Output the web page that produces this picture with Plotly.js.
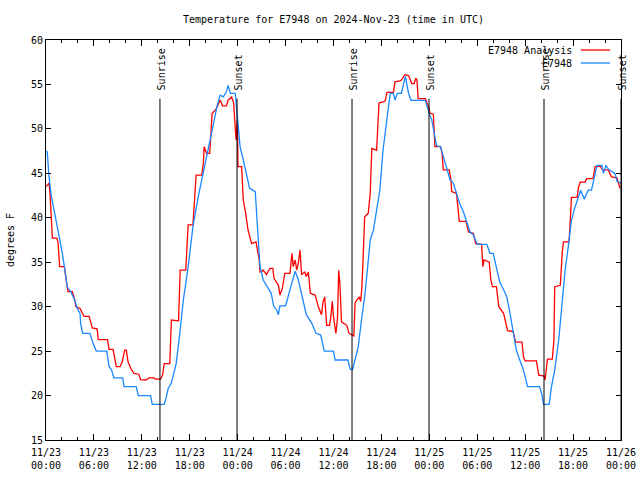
<!DOCTYPE html>
<html>
<head>
<meta charset="utf-8">
<script src="https://cdn.plot.ly/plotly-3.0.1.min.js"></script>
<style>html,body{margin:0;padding:0;background:#fff}#chart{width:640px;height:480px}</style>
</head>
<body>
<div id="chart"></div>
<script>
// Start of the period (UTC)
const startTime = "2024-11-23T00:00:00Z";

// E7948 Analysis (red): hours since start, temperature in F
const analysisHours = [0.0,0.38,0.5,0.67,0.8,1.34,1.5,1.71,2.3,2.46,2.75,3.3,3.5,3.76,4.26,4.76,5.4,5.8,6.4,6.55,7.7,7.9,8.4,8.8,9.27,9.55,9.85,10.06,10.27,10.6,11.0,11.6,11.85,12.5,12.9,13.5,13.7,14.35,14.6,14.8,15.5,15.7,16.6,16.8,17.5,17.8,18.4,18.8,19.5,19.7,19.8,20.1,20.5,20.8,21.2,21.45,21.8,22.1,22.6,22.8,23.25,23.5,23.8,23.96,24.04,24.5,24.7,25.0,25.3,25.75,26.3,26.7,26.8,27.2,27.6,28.05,28.4,28.55,29.1,29.3,29.6,29.9,30.55,30.8,30.95,31.2,31.4,31.6,31.8,32.0,32.4,32.6,32.85,33.1,33.7,34.1,34.5,34.7,34.9,35.15,35.5,35.65,35.85,36.0,36.2,36.3,36.5,36.65,36.8,37.0,37.65,37.95,38.55,38.7,38.9,39.25,39.4,39.55,39.7,39.8,39.9,40.35,40.6,40.8,41.4,41.6,41.7,42.45,42.7,43.5,43.7,44.3,44.5,44.95,45.4,45.8,46.1,46.3,46.45,46.6,47.5,47.9,48.1,48.5,48.7,49.4,49.6,49.75,50.5,50.7,50.8,51.4,51.7,51.75,52.6,52.9,53.5,53.8,54.55,54.7,54.85,55.5,55.7,55.9,56.4,56.7,57.3,57.8,58.5,58.8,59.6,59.8,60.0,61.4,61.5,61.7,62.4,62.5,62.7,62.8,63.4,63.6,63.7,64.4,64.65,64.8,65.5,65.7,65.8,66.5,66.7,66.9,67.5,67.7,68.5,68.75,69.4,69.7,70.4,70.8,71.5,71.6,71.9];
const analysisTemps = [43.5,43.9,42.75,39.4,37.7,37.7,37.3,34.5,34.5,33.4,31.7,31.7,31.1,30.0,29.8,28.9,28.9,27.6,27.5,26.3,26.3,25.2,25.2,23.25,23.25,23.8,25.1,25.1,23.8,23.1,22.5,22.4,21.8,21.75,22.0,22.0,21.85,21.85,22.3,23.6,23.6,28.5,28.4,34.1,34.1,39.2,39.2,44.8,44.8,46.1,48.0,47.25,47.25,51.75,52.1,52.5,53.25,52.6,52.6,53.25,53.6,52.9,48.75,51.0,45.75,45.75,42.0,40.5,38.6,37.1,37.3,35.25,33.9,34.1,33.6,34.3,34.3,33.2,32.4,31.3,32.1,33.75,33.75,36.0,34.5,35.25,34.1,34.9,36.4,33.6,33.9,33.4,33.9,31.5,31.3,30.0,29.1,30.6,31.1,27.9,27.9,28.7,30.6,28.9,27.6,27.0,28.7,34.1,32.6,28.3,27.9,27.0,26.7,30.4,30.75,31.1,30.6,32.1,35.25,38.4,40.1,40.5,42.75,47.8,47.6,51.2,52.9,53.1,54.1,54.1,55.3,55.4,55.5,56.1,56.0,55.1,55.1,55.7,55.5,53.4,53.4,52.5,51.75,51.65,48.0,48.0,47.25,45.4,45.4,44.25,42.95,42.75,40.5,39.6,39.6,38.4,38.25,37.1,37.0,34.5,35.25,35.0,33.0,32.25,32.25,30.0,29.25,27.3,27.2,26.0,26.0,24.3,23.9,23.9,23.4,22.3,22.2,21.75,23.4,24.1,24.1,26.25,32.25,32.4,36.2,37.3,37.3,41.06,42.3,42.3,43.5,44.0,44.0,44.4,44.4,45.75,45.8,45.4,45.4,44.6,44.5,44.1,43.3];

// E7948 observations (blue)
const obsHours = [0.0,0.16,0.34,0.5,0.67,1.0,1.42,1.71,2.05,2.33,2.67,3.09,3.59,3.92,4.26,4.34,4.59,5.5,5.8,6.3,7.6,7.9,8.2,8.5,9.6,9.77,11.3,11.56,13.1,13.3,14.8,15.0,15.3,15.7,16.3,16.7,17.2,17.8,18.4,19.07,19.7,20.3,20.9,21.4,21.8,22.2,22.6,22.8,23.1,23.7,23.96,24.3,24.7,25.1,25.5,26.2,26.4,26.6,26.8,27.2,27.8,28.2,28.5,28.9,29.1,29.3,30.0,30.55,31.2,31.6,32.0,32.6,33.3,33.8,34.4,34.85,36.0,36.2,37.8,38.1,38.4,38.6,39.1,39.5,39.9,40.2,40.6,41.0,41.6,41.8,42.2,42.7,43.1,43.5,43.7,44.0,44.5,44.7,45.0,45.4,45.7,47.5,47.7,48.0,48.3,48.6,48.9,49.4,49.75,50.2,50.6,51.0,51.4,51.8,52.25,52.7,53.1,53.5,54.0,55.2,55.6,56.0,56.4,56.8,57.3,57.7,58.1,58.5,58.9,59.4,59.7,60.0,60.3,61.8,62.1,62.3,63.0,63.3,63.7,64.2,64.6,65.0,65.4,65.8,66.2,66.7,66.95,67.4,67.9,68.3,68.75,69.0,69.6,69.8,70.1,70.5,71.25,71.5,72.0];
const obsTemps = [47.5,47.4,45.0,43.5,42.4,40.9,39.0,37.5,36.0,34.3,32.2,31.7,30.75,29.8,29.25,28.1,27.0,27.0,26.1,25.0,25.0,23.25,22.9,22.0,22.0,21.0,21.0,20.0,20.0,19.0,19.0,19.6,20.8,21.4,23.6,26.6,30.75,34.5,39.0,42.4,45.0,47.6,50.25,52.5,53.8,53.6,54.2,54.9,54.0,54.0,51.0,48.0,46.5,45.0,43.3,42.95,40.5,37.5,34.5,33.0,32.1,31.5,30.1,29.6,29.1,30.1,30.1,31.9,34.0,33.0,31.3,29.1,28.1,27.0,26.8,25.0,25.0,24.0,24.0,22.95,22.95,23.6,25.5,28.5,31.1,33.75,37.5,38.6,42.0,43.1,47.6,51.0,54.0,54.0,53.25,54.0,54.0,54.75,55.9,54.0,53.2,53.2,52.5,51.7,51.0,49.5,48.1,48.0,46.9,45.75,44.25,43.9,42.75,41.6,40.7,39.4,38.4,38.1,37.0,37.0,36.0,36.0,34.5,32.8,31.9,31.1,29.25,27.2,25.1,23.8,23.1,22.1,21.0,21.0,20.1,19.0,19.0,21.0,22.9,26.25,30.0,34.1,36.75,39.75,41.06,42.4,43.1,42.1,43.1,43.1,45.0,45.9,45.9,45.0,45.9,45.4,45.0,44.1,43.9];

// Sunrise / sunset markers (hours since start)
const sunHours = [14.27, 23.92, 38.32, 47.96, 62.36, 72.0];
const sunLabels = ["Sunrise", "Sunset", "Sunrise", "Sunset", "Sunrise", "Sunset"];

// X tick positions (hours) and labels
const tickHours = [0,6,12,18,24,30,36,42,48,54,60,66,72];
const tickLabels = ["11/23<br>00:00","11/23<br>06:00","11/23<br>12:00","11/23<br>18:00","11/24<br>00:00","11/24<br>06:00","11/24<br>12:00","11/24<br>18:00","11/25<br>00:00","11/25<br>06:00","11/25<br>12:00","11/25<br>18:00","11/26<br>00:00"];

const seriesNames = ["E7948 Analysis", "E7948"];
const seriesColors = ["#ff0000", "#1a88ff"];

const t0 = Date.parse(startTime);
function toTime(h) {
  return new Date(t0 + h * 3600000).toISOString().slice(0, 19).replace("T", " ");
}

const FONT = "DejaVu Sans Mono, Liberation Mono, monospace";

const traces = [
  {x: analysisHours.map(toTime), y: analysisTemps, type: "scatter", mode: "lines",
   name: seriesNames[0], line: {color: seriesColors[0], width: 1.3}},
  {x: obsHours.map(toTime), y: obsTemps, type: "scatter", mode: "lines",
   name: seriesNames[1], line: {color: seriesColors[1], width: 1.3}}
];

const shapes = sunHours.map(h => ({
  type: "line", xref: "x", yref: "y", x0: toTime(h), x1: toTime(h), y0: 15, y1: 53.4,
  line: {color: "#000", width: 1}
}));
const annotations = sunHours.map((h, i) => ({
  x: toTime(h), y: 54.1, xref: "x", yref: "y", text: sunLabels[i], textangle: -90,
  showarrow: false, xanchor: "center", yanchor: "bottom", xshift: 1,
  font: {family: FONT, size: 10, color: "#000"}
}));

// Legend (gnuplot style: text right-aligned, sample line to its right)
const legendY = [0.975, 0.9425];
seriesNames.forEach((n, i) => {
  annotations.push({x: 0.918, y: legendY[i], xref: "paper", yref: "paper", text: n,
    showarrow: false, xanchor: "right", yanchor: "middle",
    font: {family: FONT, size: 10, color: "#000"}});
  shapes.push({type: "line", xref: "paper", yref: "paper", x0: 0.930, x1: 0.981,
    y0: legendY[i], y1: legendY[i], line: {color: seriesColors[i], width: 1.3}});
});

const layout = {
  width: 640, height: 480,
  margin: {l: 46, r: 19, t: 40, b: 40},
  paper_bgcolor: "#fff", plot_bgcolor: "#fff",
  font: {family: FONT, size: 10, color: "#000"},
  showlegend: false,
  title: {text: "Temperature for E7948 on 2024-Nov-23 (time in UTC)",
    x: 0.5, xref: "paper", y: 0.96, yref: "container", yanchor: "middle",
    font: {family: FONT, size: 10, color: "#000"}},
  xaxis: {
    type: "date", range: [toTime(0), toTime(72)],
    tickvals: tickHours.map(toTime), ticktext: tickLabels,
    ticks: "inside", ticklen: 6, tickcolor: "#000", ticklabelstandoff: 3,
    minor: {dtick: 2 * 3600000, ticks: "inside", ticklen: 3, tickcolor: "#000", showgrid: false},
    showline: true, linecolor: "#000", linewidth: 1, mirror: "ticks",
    showgrid: false, zeroline: false, automargin: false,
    tickfont: {family: FONT, size: 10, color: "#000"}
  },
  yaxis: {
    range: [15, 60], dtick: 5, tick0: 15,
    ticks: "inside", ticklen: 5, tickcolor: "#000",
    showline: true, linecolor: "#000", linewidth: 1, mirror: "ticks",
    showgrid: false, zeroline: false, automargin: false,
    title: {text: "degrees F", standoff: 14, font: {family: FONT, size: 10, color: "#000"}},
    tickfont: {family: FONT, size: 10, color: "#000"}
  },
  shapes: shapes,
  annotations: annotations
};

Plotly.newPlot("chart", traces, layout, {displayModeBar: false, staticPlot: true});
</script>
</body>
</html>
